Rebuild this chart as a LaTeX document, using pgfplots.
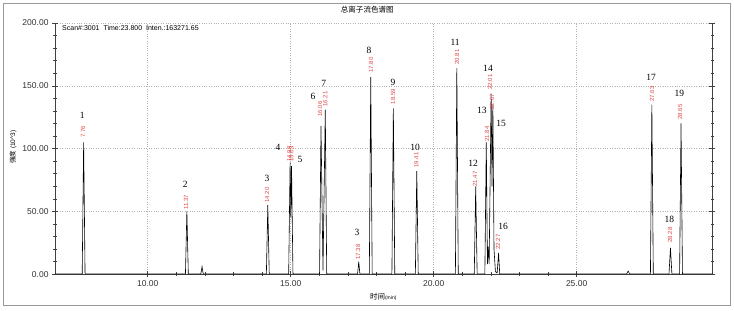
\documentclass[border=0pt]{standalone}
\usepackage{fontspec}
\setmainfont{Liberation Sans}
\newfontfamily\cjk{Noto Sans CJK SC}
\newfontfamily\serif{Liberation Serif}
\usepackage{pgfplots}
\pgfplotsset{compat=1.18}
\definecolor{lbl}{HTML}{E04848}
\begin{document}
\begin{tikzpicture}
\path (-55pt,-36pt) rectangle (678.5pt,274pt);
\draw[gray!80, line width=0.8pt] (-52pt,-31pt) rectangle (675pt,271pt);
\begin{axis}[
 scale only axis, width=657pt, height=251pt,
 xmin=6.76, xmax=29.75, ymin=0, ymax=200,
 axis x line*=bottom, axis y line*=box, xtick pos=both,
 axis line style={black!75, line width=0.6pt},
 xtick={10,15,20,25}, minor x tick num=4,
 ytick={0,50,100,150,200}, minor y tick num=4,
 grid=major, major grid style={gray!60, dotted, line width=0.5pt},
 tick align=center, major tick length=6pt, minor tick length=3.5pt,
 tick style={black!75, line width=0.5pt},
 ticklabel style={font=\fontsize{8.5}{10}\selectfont, color=black!80},
 /pgf/number format/fixed, /pgf/number format/fixed zerofill,
 /pgf/number format/precision=2, /pgf/number format/assume math mode=true,
 clip=false,
]
\addplot[black, line width=0.6pt] coordinates {
(6.76,0.3)
(7.71,0.3)(7.76,105)(7.81,0.3)
(11.32,0.3)(11.37,50)(11.42,0.3)
(11.86,0.3)(11.9,6)(11.94,0.3)
(14.15,0.3)(14.20,55)(14.25,0.3)
(14.93,0.3)(14.98,89)(15.005,45)(15.03,86)(15.08,0.3)
(16.01,0.3)(16.06,118)(16.13,3)(16.21,131)(16.26,0.3)
(17.34,0.3)(17.38,10)(17.42,0.3)
(17.75,0.3)(17.80,157)(17.85,0.3)
(18.54,0.3)(18.59,132)(18.64,0.3)
(19.36,0.3)(19.41,82)(19.46,0.3)
(20.76,0.3)(20.81,164)(20.86,0.3)
(21.42,0.3)(21.47,70)(21.52,0.3)
(21.79,0.3)(21.84,105)(21.88,8)(21.91,22)(21.94,8)(22.01,144)(22.04,70)(22.07,135)(22.11,20)(22.16,2)(22.22,1)(22.27,17)(22.31,0.3)
(26.75,0.3)(26.8,2.5)(26.85,0.3)
(27.58,0.3)(27.63,135)(27.68,0.3)
(28.23,0.3)(28.28,21)(28.33,0.3)
(28.60,0.3)(28.65,120)(28.70,0.3)
(29.75,0.3)
};
% peak numbers
\begin{scope}[every node/.style={font=\serif\fontsize{9.5}{10}\selectfont, inner sep=0pt}]
\node at (axis cs:7.71,126.7) {1};
\node at (axis cs:11.31,71.7) {2};
\node at (axis cs:14.17,76.5) {3};
\node at (axis cs:14.56,101.2) {4};
\node at (axis cs:15.33,91.6) {5};
\node at (axis cs:15.78,141.8) {6};
\node at (axis cs:16.16,152.2) {7};
\node at (axis cs:17.32,33.5) {3};
\node at (axis cs:17.74,178.5) {8};
\node at (axis cs:18.58,153) {9};
\node at (axis cs:19.35,101.2) {10};
\node at (axis cs:20.75,184.9) {11};
\node at (axis cs:21.38,88.4) {12};
\node at (axis cs:21.69,130.7) {13};
\node at (axis cs:21.90,164.1) {14};
\node at (axis cs:22.36,120.3) {15};
\node at (axis cs:22.43,38.2) {16};
\node at (axis cs:27.60,157) {17};
\node at (axis cs:28.24,43.8) {18};
\node at (axis cs:28.59,144.2) {19};
\end{scope}
% retention times
\begin{scope}[every node/.style={font=\fontsize{6}{7}\selectfont, text=lbl, rotate=90, anchor=west, inner sep=0.5pt}]
\node at (axis cs:7.74,108.4) {7.76};
\node at (axis cs:11.34,51) {11.37};
\node at (axis cs:14.17,56.6) {14.20};
\node at (axis cs:14.95,89.2) {14.98};
\node at (axis cs:15.02,89.2) {15.03};
\node at (axis cs:16.03,125) {16.06};
\node at (axis cs:16.21,133) {16.21};
\node at (axis cs:17.36,11.2) {17.38};
\node at (axis cs:17.81,160) {17.80};
\node at (axis cs:18.58,134.7) {18.59};
\node at (axis cs:19.39,84.5) {19.41};
\node at (axis cs:20.82,166.5) {20.81};
\node at (axis cs:21.45,69.3) {21.47};
\node at (axis cs:21.87,105.2) {21.84};
\node at (axis cs:21.97,146.6) {22.01};
\node at (axis cs:22.04,130.7) {22.07};
\node at (axis cs:22.25,19.1) {22.27};
\node at (axis cs:27.64,137) {27.63};
\node at (axis cs:28.27,24.7) {28.28};
\node at (axis cs:28.62,122.7) {28.65};
\end{scope}
\end{axis}
\node[font=\cjk\fontsize{7.5}{9}\selectfont] at (312pt,264pt) {总离子流色谱图};
\node[anchor=west, font=\fontsize{7}{8}\selectfont, inner sep=0pt] at (7pt,246pt) {Scan\#:3001\ \ Time:23.800\ \ Inten.:163271.65};
\node[font=\fontsize{7.5}{9}\selectfont] at (328pt,-23pt) {{\cjk 时间}{\fontsize{5}{6}\selectfont(min)}};
\node[rotate=90, font=\fontsize{6.5}{8}\selectfont] at (-42pt,127pt) {{\cjk 强度} (10\textasciicircum 3)};
\end{tikzpicture}
\end{document}
